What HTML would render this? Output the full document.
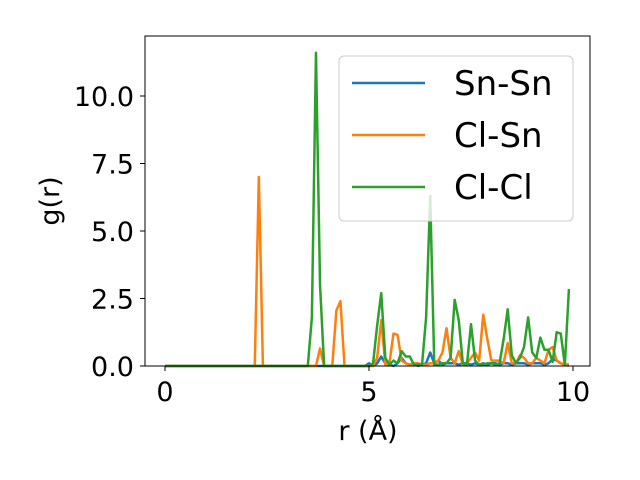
<!DOCTYPE html>
<html><head><meta charset="utf-8"><style>body{margin:0;background:#fff}svg{display:block;font-family:"DejaVu Sans","Liberation Sans",sans-serif}</style></head>
<body>
<svg id="chart" width="640" height="480" viewBox="0 0 640 480" xmlns="http://www.w3.org/2000/svg"></svg>
<script>
const seriesNames = ["Sn-Sn","Cl-Sn","Cl-Cl"];
const seriesColors = ["#1f77b4","#ff7f0e","#2ca02c"];
const snSn = [0,0,0,0,0,0,0,0,0,0, 0,0,0,0,0,0,0,0,0,0, 0,0,0,0,0,0,0,0,0,0, 0,0,0,0,0,0,0,0,0,0, 0,0,0,0,0,0,0,0,0,0,
 0.1,0,0.1,0.35,0.1,0.05,0,0.1,0.3,0.1, 0.05,0.1,0,0.05,0.1,0.5,0.1,0.2,0.05,0.1, 0.1,0.1,0.05,0.1,0.1,0.05,0.1,0.05,0.1,0.05, 0.1,0.1,0.05,0.1,0.1,0.05,0.1,0.1,0.1,0.05, 0.1,0.1,0.1,0.05,0.1,0.25,0.2,0.1,0.05,0.05];
const clSn = [0,0,0,0,0,0,0,0,0,0, 0,0,0,0,0,0,0,0,0,0, 0,0,0,7.0,0,0,0,0,0,0, 0,0,0,0,0,0,0,0,0.65,0, 0,0,2.05,2.4,0,0,0,0,0,0,
 0,0,0.3,1.7,0.05,0.1,1.2,1.15,0.2,0.1, 0.05,0.1,0.1,0.05,0.05,0.1,0.1,0.2,0.5,1.4, 0.3,0.1,0.55,0.05,0.1,0.3,0.5,0.2,1.9,1.0, 0.2,0.2,0.2,0.1,0.85,0.1,0.1,0.4,0.3,0.1, 0.1,0.3,0.2,0.1,0.6,0.7,0.2,0.1,0.05,0];
const clCl = [0,0,0,0,0,0,0,0,0,0, 0,0,0,0,0,0,0,0,0,0, 0,0,0,0,0,0,0,0,0,0, 0,0,0,0,0,0,1.8,11.6,3.0,0, 0,0,0,0,0,0,0,0,0,0,
 0,0.1,1.5,2.7,0.3,0.05,0.2,0.1,0.55,0.35, 0.35,0.05,0.05,0.05,1.8,6.3,0.05,0.05,0.1,0.1, 0.3,2.45,1.7,0.1,0.05,1.55,0.2,0.05,0.05,0.1, 0.1,0.05,0.1,1.0,2.1,0.4,0.1,0.3,0.7,1.8, 0.5,0.3,1.05,0.6,0.6,0.15,1.25,1.2,0.05,2.85];
const rStep = 0.1;
const xTicks = [0,5,10];
const xTickLabels = ["0","5","10"];
const yTicks = [0,2.5,5,7.5,10];
const yTickLabels = ["0.0","2.5","5.0","7.5","10.0"];

const NS="http://www.w3.org/2000/svg";
const svg=document.getElementById('chart');
const L=145,R=590,T=36,B=366;
const x=v=>165+v*40.8;
const y=v=>366-v*27.0;
function mk(tag,attrs,parent){const e=document.createElementNS(NS,tag);for(const k in attrs)e.setAttribute(k,attrs[k]);(parent||svg).appendChild(e);return e;}

const all=[snSn,clSn,clCl];
all.forEach((arr,si)=>{
  const pts=arr.map((v,i)=>x(i*rStep).toFixed(2)+","+y(v).toFixed(2)).join(" ");
  const p=mk('polyline',{points:pts,fill:'none',stroke:seriesColors[si],'stroke-width':2.5,'stroke-linejoin':'round'});
  
  
});
const frame=mk('rect',{x:L,y:T,width:R-L,height:B-T,fill:'none',stroke:'#000','stroke-width':1});



xTicks.forEach((t,i)=>{
  const ln=mk('line',{x1:x(t),x2:x(t),y1:B,y2:B+5,stroke:'#000'});
  
  
  const tx=mk('text',{x:x(t),y:B+35,'font-size':27,'text-anchor':'middle'});
  tx.textContent=xTickLabels[i];
  
  
});
yTicks.forEach((t,i)=>{
  const ln=mk('line',{x1:L-5,x2:L,y1:y(t),y2:y(t),stroke:'#000'});
  
  
  const tx=mk('text',{x:L-11,y:y(t)+10,'font-size':27,'text-anchor':'end'});
  tx.textContent=yTickLabels[i];
  
  
});
const xl=mk('text',{x:368,y:440,'font-size':27,'text-anchor':'middle'});
xl.textContent='r (Å)';


const yl=mk('text',{x:0,y:0,'font-size':27,'text-anchor':'middle',transform:'translate(59,201) rotate(-90)'});
yl.textContent='g(r)';



const lg=mk('g',{});


mk('rect',{x:339,y:56,width:234,height:165,rx:5,fill:'#fff','fill-opacity':0.8,stroke:'#ccc'},lg);
seriesNames.forEach((n,i)=>{
  const yy=83+i*52;
  const ln=mk('line',{x1:352,x2:425,y1:yy,y2:yy,stroke:seriesColors[i],'stroke-width':2.5},lg);
  
  
  const tx=mk('text',{x:454,y:yy+12,'font-size':34},lg);
  tx.textContent=n;
  
  
});
</script>
</body></html>
